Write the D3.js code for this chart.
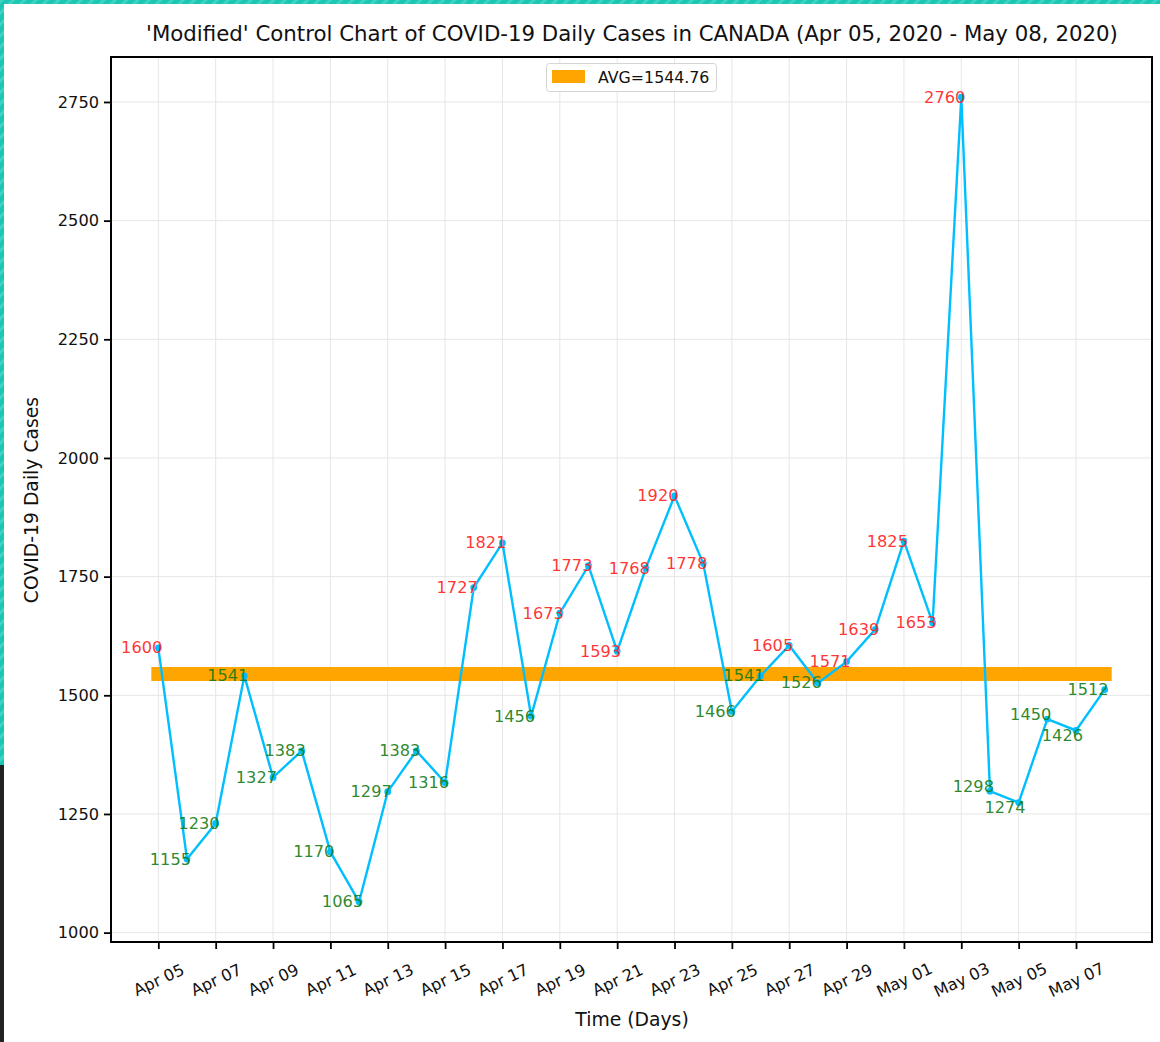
<!DOCTYPE html>
<html><head><meta charset="utf-8">
<script src="https://cdn.jsdelivr.net/npm/d3@7"></script>
<style>body{margin:0;background:#fff}svg{display:block;font-family:"DejaVu Sans",sans-serif}</style>
</head><body><svg id="c" width="1160" height="1042"></svg>
<script>
const dates = ["2020-04-05","2020-04-06","2020-04-07","2020-04-08","2020-04-09","2020-04-10","2020-04-11","2020-04-12","2020-04-13","2020-04-14","2020-04-15","2020-04-16","2020-04-17","2020-04-18","2020-04-19","2020-04-20","2020-04-21","2020-04-22","2020-04-23","2020-04-24","2020-04-25","2020-04-26","2020-04-27","2020-04-28","2020-04-29","2020-04-30","2020-05-01","2020-05-02","2020-05-03","2020-05-04","2020-05-05","2020-05-06","2020-05-07","2020-05-08"];
const cases = [1600,1155,1230,1541,1327,1383,1170,1065,1297,1383,1316,1727,1821,1456,1673,1773,1593,1768,1920,1778,1466,1541,1605,1526,1571,1639,1825,1653,2760,1298,1274,1450,1426,1512];
const yTicks = [1000,1250,1500,1750,2000,2250,2500,2750];
const xTickLabels = ["Apr 05","Apr 07","Apr 09","Apr 11","Apr 13","Apr 15","Apr 17","Apr 19","Apr 21","Apr 23","Apr 25","Apr 27","Apr 29","May 01","May 03","May 05","May 07"];
const title = "'Modified' Control Chart of COVID-19 Daily Cases in CANADA (Apr 05, 2020 - May 08, 2020)";

const svg = d3.select("#c");
// decorative frame
const defs = svg.append("defs");
const pat = defs.append("pattern").attr("id","st").attr("width",8).attr("height",8)
  .attr("patternUnits","userSpaceOnUse").attr("patternTransform","rotate(45)");
pat.append("rect").attr("width",8).attr("height",8).attr("fill","#1cc6b4");
pat.append("rect").attr("width",3).attr("height",8).attr("fill","#3fd3c2");
svg.append("rect").attr("x",0).attr("y",0).attr("width",1160).attr("height",4).attr("fill","url(#st)");
svg.append("rect").attr("x",0).attr("y",0).attr("width",4).attr("height",765).attr("fill","url(#st)");
svg.append("rect").attr("x",0).attr("y",765).attr("width",4).attr("height",277).attr("fill","#222");

const parse = d3.timeParse("%Y-%m-%d");
const dts = dates.map(parse);
const L = 111, R = 1152, T = 57, B = 942;
const n = cases.length;
const x = d3.scaleLinear().domain([-(n-1)*0.05, (n-1)*1.05]).range([L, R]);
const ymin = d3.min(cases), ymax = d3.max(cases), pad = (ymax-ymin)*0.05;
const y = d3.scaleLinear().domain([ymin-pad, ymax+pad]).range([B, T]);
const avg = d3.mean(cases);

const g = svg.append("g");
// grid
const xTickIdx = d3.range(0, n, 2);
g.selectAll(".gx").data(xTickIdx).join("line").attr("x1",d=>x(d)).attr("x2",d=>x(d))
  .attr("y1",T).attr("y2",B).attr("stroke","#e6e6e6").attr("stroke-width",1);
g.selectAll(".gy").data(yTicks).join("line").attr("y1",d=>y(d)).attr("y2",d=>y(d))
  .attr("x1",L).attr("x2",R).attr("stroke","#e6e6e6").attr("stroke-width",1);

// avg band
g.append("line").attr("x1",x(0)).attr("x2",x(n-1)).attr("y1",y(avg)).attr("y2",y(avg))
  .attr("stroke","#FFA500").attr("stroke-width",14).attr("stroke-linecap","square");

// line
const line = d3.line().x((d,i)=>x(i)).y(d=>y(d));
g.append("path").datum(cases).attr("d",line).attr("fill","none").attr("stroke","#00BFFF").attr("stroke-width",2.4);
g.selectAll(".pt").data(cases).join("circle").attr("cx",(d,i)=>x(i)).attr("cy",d=>y(d)).attr("r",3.4).attr("fill","#00BFFF");

// value labels
const labels = g.selectAll(".lb").data(cases).join("text").attr("x",(d,i)=>x(i)+4).attr("y",d=>y(d))
  .attr("text-anchor","end").attr("dominant-baseline","central").attr("font-size",16.2)
  .attr("fill",d=>d>avg?"#ff1a1a":"#117a11").attr("fill-opacity",0.9).text(d=>d);
// simple overlap resolution between neighbouring labels: push them apart vertically
const nodes = labels.nodes();
for (let i = 1; i < nodes.length; i++) {
  const a = nodes[i-1].getBBox(), b = nodes[i].getBBox();
  const ox = Math.min(a.x + a.width, b.x + b.width) - Math.max(a.x, b.x);
  const oy = Math.min(a.y + a.height, b.y + b.height) - Math.max(a.y, b.y);
  if (ox > 0 && oy > 0) {
    const shift = oy / 2 + 1;
    const upA = a.y <= b.y;
    nodes[i-1].setAttribute("y", +nodes[i-1].getAttribute("y") + (upA ? -shift : shift));
    nodes[i].setAttribute("y", +nodes[i].getAttribute("y") + (upA ? shift : -shift));
    nodes[i].setAttribute("x", +nodes[i].getAttribute("x") + 3);
  }
}

// axes
const yAxis = d3.axisLeft(y).tickValues(yTicks).tickSize(7).tickPadding(5).tickFormat(d3.format("d"));
const ya = svg.append("g").attr("transform",`translate(${L},0)`).call(yAxis);
ya.select(".domain").remove();
ya.selectAll(".tick line").attr("stroke","#000").attr("stroke-width",1.8);
ya.selectAll(".tick text").attr("font-size",16.2).attr("fill","#111").attr("font-family","DejaVu Sans");

const xAxis = d3.axisBottom(x).tickValues(xTickIdx).tickSize(7).tickFormat((d,i)=>xTickLabels[i]);
const xa = svg.append("g").attr("transform",`translate(0,${B})`).call(xAxis);
xa.select(".domain").remove();
xa.selectAll(".tick line").attr("stroke","#000").attr("stroke-width",1.8);
xa.selectAll(".tick text").attr("font-size",16.2).attr("fill","#111").attr("font-family","DejaVu Sans")
  .attr("y",0).attr("dy",0).attr("text-anchor","middle").attr("dominant-baseline","central")
  .attr("transform","translate(0,38) rotate(-25)");

// frame
svg.append("rect").attr("x",L).attr("y",T).attr("width",R-L).attr("height",B-T)
  .attr("fill","none").attr("stroke","#000").attr("stroke-width",2);

// legend
const lg = svg.append("g");
lg.append("rect").attr("x",546.5).attr("y",63.5).attr("width",170).attr("height",28).attr("rx",3)
  .attr("fill","#fff").attr("fill-opacity",0.85).attr("stroke","#d5d5d5");
lg.append("rect").attr("x",552).attr("y",70).attr("width",33).attr("height",13).attr("fill","#FFA500");
lg.append("text").attr("x",598).attr("y",77).attr("dominant-baseline","central").attr("font-size",15.8)
  .attr("fill","#111").text("AVG=" + avg.toFixed(2));

// titles
svg.append("text").attr("x",632).attr("y",33).attr("text-anchor","middle").attr("dominant-baseline","central")
  .attr("font-size",21.3).attr("fill","#111").text(title);
svg.append("text").attr("x",632).attr("y",1019).attr("text-anchor","middle").attr("dominant-baseline","central")
  .attr("font-size",18.8).attr("fill","#111").text("Time (Days)");
svg.append("text").attr("transform","translate(31,500) rotate(-90)").attr("text-anchor","middle")
  .attr("dominant-baseline","central").attr("font-size",18.8).attr("fill","#111").text("COVID-19 Daily Cases");
</script></body></html>
